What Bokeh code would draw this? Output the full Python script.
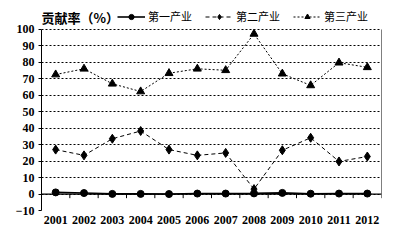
from bokeh.plotting import figure
from bokeh.models import (FactorRange, Range1d, FixedTicker, Span, Legend, LegendItem,
                          Label, ColumnDataSource)
from bokeh.embed import file_html
from bokeh.resources import INLINE

years = ["2001", "2002", "2003", "2004", "2005", "2006",
         "2007", "2008", "2009", "2010", "2011", "2012"]
primary = [1.0, 0.6, 0.1, 0.1, 0.0, 0.3, 0.3, 0.4, 0.7, 0.2, 0.3, 0.3]
secondary = [27.0, 23.5, 33.6, 38.3, 27.0, 23.5, 25.0, 3.0, 26.6, 34.2, 19.8, 22.8]
tertiary = [72.6, 76.1, 67.0, 62.3, 73.4, 76.1, 75.2, 97.3, 73.1, 66.0, 79.8, 77.0]
names = ["第一产业", "第二产业", "第三产业"]
y_ticks = [-10, 0, 10, 20, 30, 40, 50, 60, 70, 80, 90, 100]
title_text = "贡献率（%）"

NUM_FONT = "Liberation Serif"
CJK = "Noto Sans CJK SC"

styles = [dict(line_width=1.6, line_dash="solid", marker="circle", size=7),
          dict(line_width=1, line_dash="4 3", marker="diamond", size=9),
          dict(line_width=1, line_dash="2 2", marker="triangle", size=8)]

# frame runs from the top of the canvas down to y=-10; the axis itself stops at 100,
# so the headroom above 100 holds the title and legend (annotations clip to the frame)
p = figure(width=398, height=243, output_backend="svg", toolbar_location=None,
           x_range=FactorRange(*years, range_padding=0, factor_padding=0),
           y_range=Range1d(-10, 117.6),
           min_border_left=41, min_border_right=17, min_border_top=0, min_border_bottom=33)
p.outline_line_color = None
p.background_fill_color = "white"
p.border_fill_color = "white"

p.xgrid.grid_line_color = None
p.ygrid.ticker = FixedTicker(ticks=y_ticks)
p.ygrid.grid_line_color = "black"
p.ygrid.grid_line_dash = "2 2"
p.ygrid.grid_line_width = 1

p.yaxis.ticker = FixedTicker(ticks=y_ticks)
p.yaxis.bounds = (y_ticks[0], y_ticks[-1])
p.yaxis.axis_line_color = "black"
p.yaxis.axis_line_width = 1
p.yaxis.major_tick_out = 3
p.yaxis.major_tick_in = 0
p.yaxis.minor_tick_line_color = None
p.yaxis.major_label_text_font = NUM_FONT
p.yaxis.major_label_text_font_style = "bold"
p.yaxis.major_label_text_font_size = "12px"
p.yaxis.major_label_text_color = "black"
p.yaxis.major_label_standoff = 4

p.xaxis.axis_line_color = None
p.xaxis.major_tick_line_color = None
p.xaxis.minor_tick_line_color = None
p.xaxis.major_tick_out = 0
p.xaxis.major_label_text_font = NUM_FONT
p.xaxis.major_label_text_font_style = "bold"
p.xaxis.major_label_text_font_size = "12px"
p.xaxis.major_label_text_color = "black"
p.xaxis.major_label_standoff = 5

p.add_layout(Span(location=0, dimension="width", line_color="black", line_width=1.2))
edges = [(y, -0.5) for y in years] + [(years[-1], 0.5)]
tick_src = ColumnDataSource(dict(x=edges, y0=[0] * len(edges), y1=[-2.5] * len(edges)))
p.segment(x0="x", y0="y0", x1="x", y1="y1", source=tick_src, line_color="black", line_width=1)
border_src = ColumnDataSource(dict(x=[(years[-1], 0.5)], y0=[0], y1=[y_ticks[-1]]))
p.segment(x0="x", y0="y0", x1="x", y1="y1", source=border_src, line_color="black", line_width=1)

items = []
for name, vals, st in zip(names, [primary, secondary, tertiary], styles):
    l = p.line(years, vals, line_color="black", line_width=st["line_width"],
               line_dash=st["line_dash"])
    m = p.scatter(years, vals, marker=st["marker"], size=st["size"], color="black")
    items.append(LegendItem(label=name, renderers=[l, m]))

legend = Legend(items=items, orientation="horizontal", location=(76, 186),
                label_text_font=CJK, label_text_font_size="11px", label_text_color="black",
                glyph_width=28, glyph_height=13, label_standoff=3, spacing=13,
                padding=0, margin=0, border_line_color=None, background_fill_alpha=0,
                label_height=13)
p.add_layout(legend, "center")

p.add_layout(Label(x=0, y=203, x_units="screen", y_units="screen", text=title_text,
                   text_font=CJK, text_font_style="bold", text_font_size="13px",
                   text_color="black", text_baseline="top", text_align="left"))

open("out.html", "w").write(file_html(p, INLINE))
